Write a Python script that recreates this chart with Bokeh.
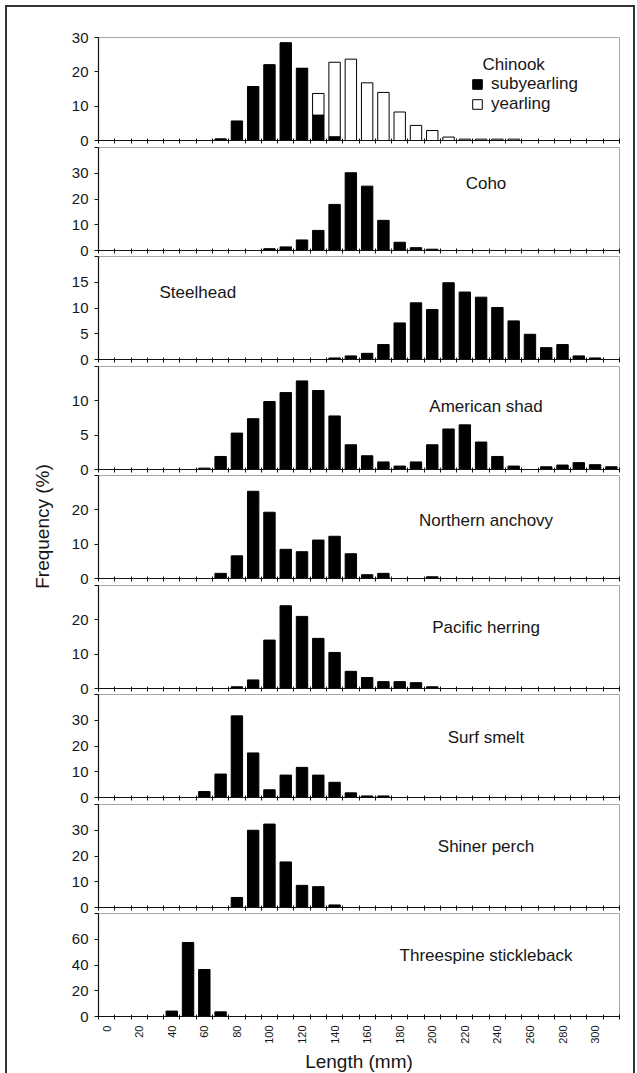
import math
from bokeh.plotting import figure
from bokeh.models import Range1d, FixedTicker, Label, Legend, LegendItem
from bokeh.layouts import column, row
from bokeh.embed import file_html
from bokeh.resources import INLINE

# ---------------- data (frequency %, 10-mm length bins) ----------------
lengths = list(range(0, 320, 10))  # bin labels 0..310 mm

chinook_sub = [0]*7 + [0.4, 5.6, 15.7, 22.0, 28.4, 21.0, 7.4, 1.1] + [0]*17
chinook_year = [0]*13 + [6.3, 21.7, 23.7, 16.8, 14.0, 8.3, 4.4, 2.9, 1.0, 0.4, 0.4, 0.4, 0.4] + [0]*6
coho = [0]*10 + [0.7, 1.4, 4.1, 7.8, 17.9, 30.2, 25.0, 11.7, 3.2, 1.1, 0.5] + [0]*11
steelhead = [0]*14 + [0.3, 0.7, 1.2, 2.9, 7.1, 11.0, 9.7, 14.9, 13.1, 12.1, 10.1, 7.5, 4.9, 2.3, 2.9, 0.7, 0.3] + [0]
american_shad = [0]*6 + [0.2, 1.9, 5.3, 7.4, 9.9, 11.2, 12.9, 11.5, 7.8, 3.6, 2.0, 1.1, 0.5, 1.1, 3.6, 5.9,
                         6.5, 4.0, 1.9, 0.5, 0, 0.4, 0.65, 1.0, 0.7, 0.4]
northern_anchovy = [0]*7 + [1.5, 6.6, 25.4, 19.3, 8.5, 7.8, 11.2, 12.3, 7.2, 1.1, 1.5, 0, 0, 0.5] + [0]*11
pacific_herring = [0]*8 + [0.5, 2.5, 14.1, 24.1, 21.0, 14.6, 10.5, 5.0, 3.2, 2.0, 2.0, 1.7, 0.5] + [0]*11
surf_smelt = [0]*6 + [2.3, 9.1, 31.7, 17.3, 3.0, 8.7, 11.7, 8.7, 5.9, 1.8, 0.6, 0.6] + [0]*14
shiner_perch = [0]*8 + [3.9, 30.0, 32.4, 17.7, 8.6, 8.1, 1.0] + [0]*17
threespine = [0]*4 + [4.2, 57.5, 36.5, 3.6] + [0]*24

species = ["Chinook", "Coho", "Steelhead", "American shad", "Northern anchovy",
           "Pacific herring", "Surf smelt", "Shiner perch", "Threespine stickleback"]
series = [chinook_sub, coho, steelhead, american_shad, northern_anchovy,
          pacific_herring, surf_smelt, shiner_perch, threespine]
y_max = [30, 40, 20, 15, 30, 30, 40, 40, 80]
y_ticks = [[0, 10, 20, 30], [0, 10, 20, 30], [0, 5, 10, 15], [0, 5, 10], [0, 10, 20],
           [0, 10, 20], [0, 10, 20, 30], [0, 10, 20, 30], [0, 20, 40, 60]]
x_tick_labels = list(range(0, 301, 20))

# ---------------- styling / layout ----------------
FONT = "Liberation Sans"
TXT = "#161616"
FRAME_W, FRAME_H = 521, 103
TITLE_W = 60
OV = 9  # extra room below each panel, overlapped by the next panel's transparent border
title_pos = [(250, 22.0), (233, 26.0), (56, 13.0), (233, 9.2), (233, 16.9),
             (233, 17.7), (233, 23.2), (233, 23.8), (233, 47.5)]
gaps = [7, 6, 7, 6, 7, 6, 7, 6]

figs = []
for k, name in enumerate(species):
    last = (k == len(species) - 1)
    p = figure(frame_width=FRAME_W, frame_height=FRAME_H,
               min_border_left=31, min_border_right=14,
               min_border_top=30 if k == 0 else 0,
               min_border_bottom=(gaps[k] + OV if not last else 8),
               x_range=Range1d(-5, 315), y_range=Range1d(0, y_max[k]),
               output_backend="svg", toolbar_location=None,
               margin=((0 if k == 0 else -OV), 0, 0, 0))
    p.background_fill_color = "white"
    p.border_fill_alpha = 0
    p.outline_line_color = "#a8a8a8"
    p.outline_line_width = 1
    p.xgrid.visible = False
    p.ygrid.visible = False

    if k == 0:
        r_sub = p.vbar(x=lengths, top=chinook_sub, width=7.0,
                       fill_color="black", line_color="black", line_width=1)
        tops = [a + b for a, b in zip(chinook_sub, chinook_year)]
        r_year = p.vbar(x=lengths, bottom=chinook_sub, top=tops, width=7.0,
                        fill_color="white", line_color="black", line_width=1)
        leg = Legend(items=[LegendItem(label="subyearling", renderers=[r_sub]),
                            LegendItem(label="yearling", renderers=[r_year])],
                     location=(373, 26), orientation="vertical",
                     glyph_width=12, glyph_height=12, label_standoff=8,
                     label_text_font=FONT, label_text_font_size="17px",
                     label_text_color=TXT, spacing=0, padding=0, margin=0,
                     border_line_color=None, background_fill_alpha=0)
        p.add_layout(leg, "center")
    else:
        p.vbar(x=lengths, top=series[k], width=7.0,
               fill_color="black", line_color="black", line_width=1)

    tx, ty = title_pos[k]
    p.add_layout(Label(x=tx, y=ty, text=name, text_align="center",
                       text_baseline="alphabetic", text_font=FONT,
                       text_font_size="17px", text_color=TXT))

    # y axis
    ticks = list(y_ticks[k])
    overrides = {}
    if y_max[k] not in ticks:
        ticks.append(y_max[k])
        overrides[y_max[k]] = ""
    ya = p.yaxis[0]
    ya.ticker = FixedTicker(ticks=ticks)
    ya.major_label_overrides = overrides
    ya.major_tick_out = 4
    ya.major_tick_in = 0
    ya.minor_tick_out = 0
    ya.minor_tick_in = 0
    ya.axis_line_color = "#111111"
    ya.axis_line_width = 1.2
    ya.major_tick_line_color = "#111111"
    ya.major_label_text_font = FONT
    ya.major_label_text_font_size = "15px"
    ya.major_label_text_color = TXT
    ya.major_label_standoff = 6

    # x axis
    xa = p.xaxis[0]
    minor = [-5 + 10 * i for i in range(33)]
    xa.ticker = FixedTicker(ticks=(x_tick_labels if last else []), minor_ticks=minor)
    xa.major_tick_in = 0
    xa.major_tick_out = 0
    xa.minor_tick_in = 2
    xa.minor_tick_out = 3
    xa.minor_tick_line_color = "#111111"
    xa.axis_line_color = "#111111"
    xa.axis_line_width = 1.2
    if last:
        xa.major_label_orientation = math.pi / 2
        xa.major_label_text_font = FONT
        xa.major_label_text_font_size = "11px"
        xa.major_label_text_color = TXT
        xa.major_label_standoff = 6
        xa.axis_label = "Length (mm)"
        xa.axis_label_text_font = FONT
        xa.axis_label_text_font_size = "19px"
        xa.axis_label_text_font_style = "normal"
        xa.axis_label_text_color = TXT
        xa.axis_label_standoff = 4
    else:
        xa.major_label_standoff = 0
        xa.major_label_text_font_size = "0px"
    figs.append(p)

# shared y-axis title in its own narrow strip
TITLE_H = 1000
tfig = figure(width=TITLE_W, height=TITLE_H, min_border=0,
              x_range=Range1d(0, TITLE_W), y_range=Range1d(TITLE_H, 0),
              output_backend="svg", toolbar_location=None)
tfig.axis.visible = False
tfig.xgrid.visible = False
tfig.ygrid.visible = False
tfig.outline_line_color = None
tfig.background_fill_color = "white"
tfig.border_fill_color = "white"
tfig.add_layout(Label(x=35, y=519, text="Frequency (%)", angle=math.pi / 2,
                      text_align="center", text_baseline="middle",
                      text_font=FONT, text_font_size="19px", text_color=TXT))

layout = row(tfig, column(*figs, spacing=0), spacing=0, margin=(5, 0, 0, 5),
             styles={"border-top": "2px solid #333333",
                     "border-left": "2px solid #333333",
                     "border-right": "2px solid #333333"})

open("out.html", "w").write(file_html(layout, INLINE))
